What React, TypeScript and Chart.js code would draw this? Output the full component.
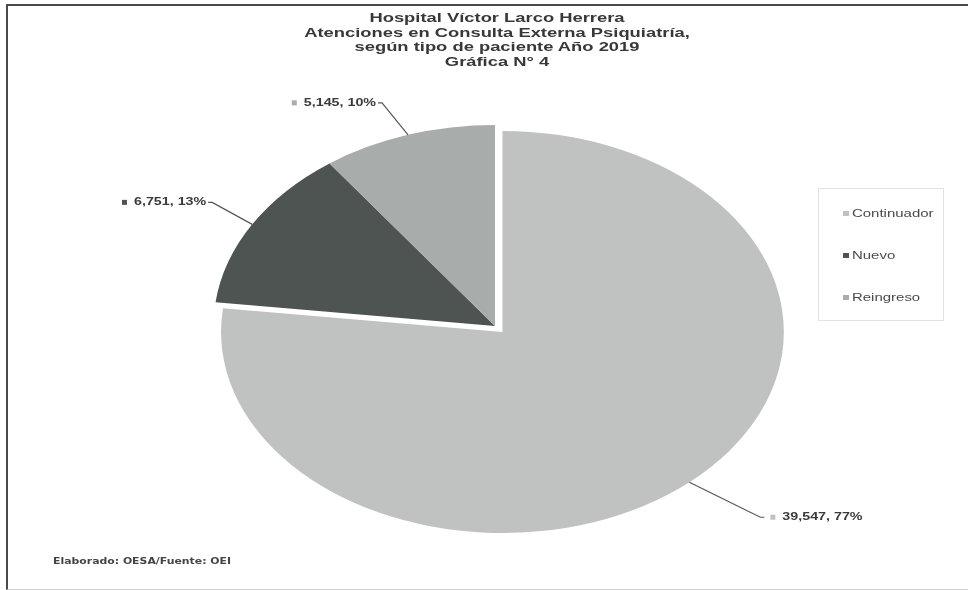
import React, { useEffect, useRef } from "react";
import { Chart, registerables } from "chart.js";

Chart.register(...registerables);

const categories = ["Continuador", "Nuevo", "Reingreso"];
const values = [39547, 6751, 5145];
const sliceColors = ["#c0c2c1", "#4d5451", "#a8acab"];
const titleLines = [
  "Hospital Víctor Larco Herrera",
  "Atenciones en Consulta Externa Psiquiatría,",
  "según tipo de paciente Año 2019",
  "Gráfica N° 4",
];
const footerText = "Elaborado: OESA/Fuente: OEI";

// style: horizontal stretch of the scanned picture, slice explosion, leader-line elbows
const SX = 1.4;
const TS = 1.36;
const explode = [8, 0, 0];
const labelOffsets = [
  { dx: 71, dy: 35, side: "right" },
  { dx: -40, dy: -22, side: "left" },
  { dx: -26, dy: -32, side: "left" },
];

const fmt = (n: number) => n.toLocaleString("en-US");

const ellipsePlugin = {
  id: "ellipse",
  afterUpdate(chart: any) {
    const meta = chart.getDatasetMeta(0);
    meta.data.forEach((arc: any, i: number) => {
      const e = explode[i] || 0;
      if (!e || arc.__patched) return;
      const orig = arc.draw.bind(arc);
      arc.draw = (ctx: CanvasRenderingContext2D) => {
        const h = (arc.startAngle + arc.endAngle) / 2;
        ctx.save();
        ctx.translate(Math.cos(h) * e, Math.sin(h) * e);
        orig(ctx);
        ctx.restore();
      };
      arc.__patched = true;
    });
  },
  beforeDatasetsDraw(chart: any) {
    const { ctx, chartArea } = chart;
    const cx = (chartArea.left + chartArea.right) / 2;
    const cy = (chartArea.top + chartArea.bottom) / 2;
    ctx.save();
    ctx.translate(cx, cy);
    ctx.scale(SX, 1);
    ctx.translate(-cx, -cy);
  },
  afterDatasetsDraw(chart: any) {
    chart.ctx.restore();
  },
};

const labelPlugin = {
  id: "leaderLabels",
  afterDraw(chart: any) {
    const { ctx, chartArea } = chart;
    const cx = (chartArea.left + chartArea.right) / 2;
    const cy = (chartArea.top + chartArea.bottom) / 2;
    const meta = chart.getDatasetMeta(0);
    const data = chart.data.datasets[0].data as number[];
    const total = data.reduce((a, b) => a + b, 0);
    meta.data.forEach((arc: any, i: number) => {
      const a = (arc.startAngle + arc.endAngle) / 2;
      const r = arc.outerRadius + (explode[i] || 0);
      const px = cx + Math.cos(a) * r * SX;
      const py = cy + Math.sin(a) * r;
      const o = labelOffsets[i];
      const ex = px + o.dx;
      const ey = py + o.dy;
      const dir = o.side === "right" ? 1 : -1;
      ctx.save();
      ctx.strokeStyle = "#555";
      ctx.lineWidth = 1.2;
      ctx.beginPath();
      ctx.moveTo(px, py);
      ctx.lineTo(ex, ey);
      ctx.lineTo(ex + dir * 4, ey);
      ctx.stroke();
      const text = `${fmt(data[i])}, ${Math.round((data[i] / total) * 100)}%`;
      ctx.font = "bold 10.5px 'Liberation Sans', Arial, sans-serif";
      ctx.textBaseline = "middle";
      ctx.textAlign = "left";
      const w = ctx.measureText(text).width * TS;
      let tx: number;
      ctx.fillStyle = sliceColors[i];
      if (dir > 0) {
        const mx = ex + 10;
        ctx.fillRect(mx, ey - 2.5, 5, 5);
        tx = mx + 12;
      } else {
        tx = ex - 6 - w;
        ctx.fillRect(tx - 12, ey - 2.5, 5, 5);
      }
      ctx.fillStyle = "#3a3a3a";
      ctx.translate(tx, ey);
      ctx.scale(TS, 1);
      ctx.fillText(text, 0, 0);
      ctx.restore();
    });
  },
};

export default function App() {
  const ref = useRef<HTMLCanvasElement>(null);
  useEffect(() => {
    if (!ref.current) return;
    const chart = new Chart(ref.current, {
      type: "pie",
      data: {
        labels: categories,
        datasets: [
          {
            data: values,
            backgroundColor: sliceColors,
            borderWidth: 0,
            clip: false as any,
          } as any,
        ],
      },
      options: {
        responsive: false,
        animation: false,
        devicePixelRatio: 1,
        layout: { padding: { left: 294, right: 272, top: 125, bottom: 63 } },
        plugins: {
          legend: { display: false },
          tooltip: { enabled: false },
          title: { display: false },
        },
      },
      plugins: [ellipsePlugin, labelPlugin],
    });
    return () => chart.destroy();
  }, []);

  return (
    <div
      style={{
        position: "fixed",
        left: 0,
        top: 0,
        width: 968,
        height: 590,
        background: "#fff",
        fontFamily: "'Liberation Sans', Arial, sans-serif",
        overflow: "hidden",
      }}
    >
      <div
        style={{
          position: "absolute",
          left: 6,
          top: 4,
          width: 970,
          height: 583,
          borderTop: "2px solid #4a4a4a",
          borderLeft: "2px solid #4a4a4a",
          borderBottom: "1px solid #cfcfcf",
        }}
      />
      <canvas ref={ref} width={968} height={590} style={{ position: "absolute", left: 0, top: 0 }} />
      <div
        style={{
          position: "absolute",
          left: 0,
          width: 996,
          top: 11,
          textAlign: "center",
          fontWeight: "bold",
          fontSize: 13.5,
          lineHeight: "14.5px",
          color: "#383838",
        }}
      >
        {titleLines.map((t, i) => (
          <div key={i} style={{ transform: `scaleX(${TS})`, transformOrigin: "50% 50%", marginLeft: -2 }}>
            {t}
          </div>
        ))}
      </div>
      <div
        style={{
          position: "absolute",
          left: 818,
          top: 188,
          width: 126,
          height: 133,
          border: "1px solid #e2e2e2",
          boxSizing: "border-box",
        }}
      >
        {categories.map((c, i) => (
          <div
            key={c}
            style={{
              position: "absolute",
              left: 24,
              top: 18 + i * 42,
              fontSize: 11,
              color: "#4a4a4a",
              whiteSpace: "nowrap",
              display: "flex",
              alignItems: "center",
            }}
          >
            <span
              style={{
                display: "inline-block",
                width: 6,
                height: 5,
                background: sliceColors[i],
                marginRight: 3,
              }}
            />
            <span style={{ display: "inline-block", transform: `scaleX(${TS})`, transformOrigin: "0 50%" }}>{c}</span>
          </div>
        ))}
      </div>
      <div
        style={{
          position: "absolute",
          left: 53,
          top: 557,
          fontFamily: "'DejaVu Sans', Verdana, sans-serif",
          fontWeight: "bold",
          fontSize: 8,
          color: "#444",
          whiteSpace: "nowrap",
          transform: `scaleX(${TS})`,
          transformOrigin: "0 50%",
        }}
      >
        {footerText}
      </div>
    </div>
  );
}
